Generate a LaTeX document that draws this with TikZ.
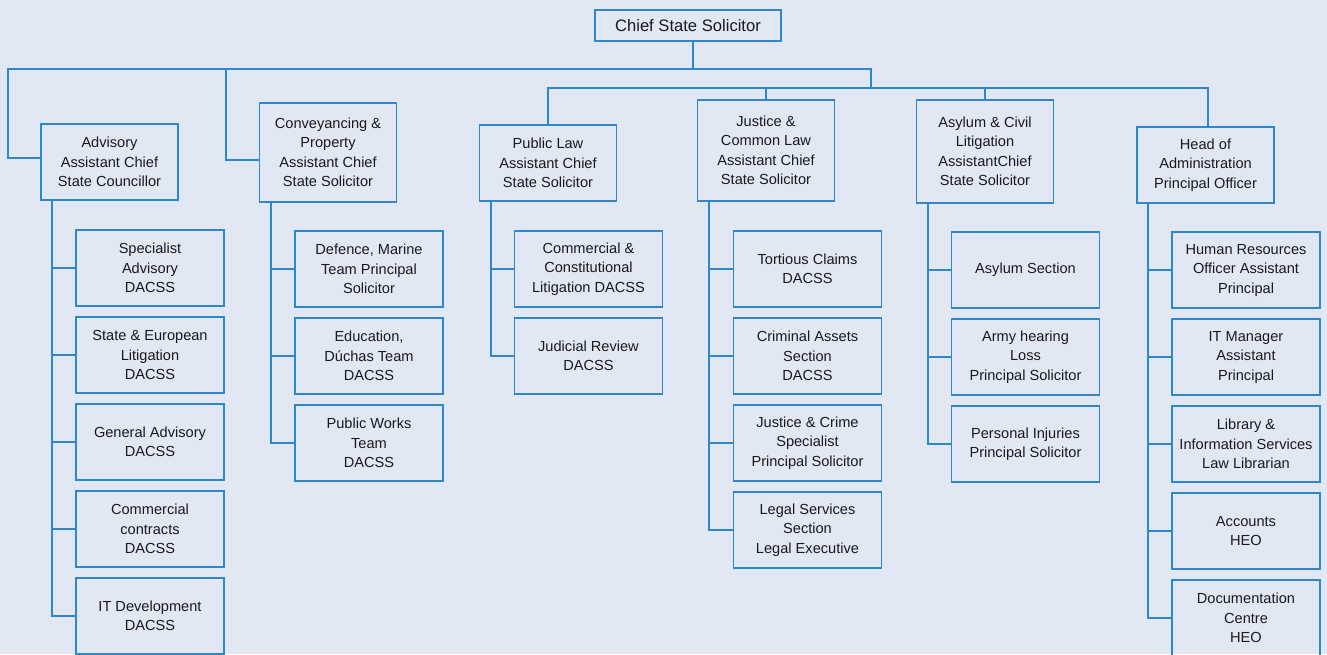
\documentclass[tikz,border=0pt]{standalone}
\usepackage{fontspec}
\setmainfont{Liberation Sans}
\definecolor{bgc}{RGB}{225,232,243}
\definecolor{linec}{RGB}{45,135,200}
\definecolor{txtc}{RGB}{25,25,30}
\begin{document}
\begin{tikzpicture}[x=1pt,y=-1pt,
  box/.style={draw=linec, line width=1.7pt, align=center, inner sep=0pt, text=txtc,
              font=\fontsize{14.6}{19.5}\selectfont},
  pbox/.style={box, minimum width=137pt},
  cbox/.style={box, minimum width=148pt, minimum height=76pt},
  conn/.style={draw=linec, line width=1.7pt}]
\useasboundingbox[fill=bgc] (0,0) rectangle (1327,654);

% top
\node[box, minimum width=186pt, minimum height=31pt, font=\fontsize{16.6}{20}\selectfont] (chief) at (688,25.5) {Chief State Solicitor};

% second level
\node[pbox, minimum height=76pt]  (adv)  at (109.5,162)  {Advisory\\Assistant Chief\\State Councillor};
\node[pbox, minimum height=99pt]  (conv) at (328,152.5)  {Conveyancing \&\\Property\\Assistant Chief\\State Solicitor};
\node[pbox, minimum height=76pt]  (pl)   at (548,163)    {Public Law\\Assistant Chief\\State Solicitor};
\node[pbox, minimum height=101pt] (jus)  at (766,150.5)  {Justice \&\\Common Law\\Assistant Chief\\State Solicitor};
\node[pbox, minimum height=103pt] (asy)  at (985,151.5)  {Asylum \& Civil\\Litigation\\AssistantChief\\State Solicitor};
\node[pbox, minimum height=76pt]  (hoa)  at (1205.5,165) {Head of\\Administration\\Principal Officer};

% junctions
\coordinate (bL) at (8,69);
\coordinate (bR) at (871,69);
\coordinate (b2R) at (871,88);
\coordinate (b2E) at (1208,88);
\coordinate (j0) at (693,69);
\coordinate (jC) at (226,69);

\draw[conn] (j0 |- chief.south) -- (j0);
\draw[conn] ([yshift=4pt]adv.west) -| (bL) -- (bR) -- (b2R);
\draw[conn] ([yshift=-7.5pt]conv.west) -| (jC);
\draw[conn] (pl.north) |- (b2E) -- (b2E |- hoa.north);
\draw[conn] (jus.north) -- (jus.north |- b2E);
\draw[conn] (asy.north) -- (asy.north |- b2E);

% Advisory children
\node[cbox] (a1) at (150,268) {Specialist\\Advisory\\DACSS};
\node[cbox] (a2) at (150,355) {State \& European\\Litigation\\DACSS};
\node[cbox] (a3) at (150,442) {General Advisory\\DACSS};
\node[cbox] (a4) at (150,529) {Commercial\\contracts\\DACSS};
\node[cbox] (a5) at (150,616) {IT Development\\DACSS};
\coordinate (sA) at ([xshift=12pt]adv.south west);
\draw[conn] (sA) |- (a5.west);
\foreach \n in {a1,a2,a3,a4} \draw[conn] (\n.west) -- (\n.west -| sA);

% Conveyancing children
\node[cbox] (c1) at (369,269) {Defence, Marine\\Team Principal\\Solicitor};
\node[cbox] (c2) at (369,356) {Education,\\Dúchas Team\\DACSS};
\node[cbox] (c3) at (369,443) {Public Works\\Team\\DACSS};
\coordinate (sC) at ([xshift=12pt]conv.south west);
\draw[conn] (sC) |- (c3.west);
\foreach \n in {c1,c2} \draw[conn] (\n.west) -- (\n.west -| sC);

% Public Law children
\node[cbox] (p1) at (588.5,269) {Commercial \&\\Constitutional\\Litigation DACSS};
\node[cbox] (p2) at (588.5,356) {Judicial Review\\DACSS};
\coordinate (sP) at ([xshift=12pt]pl.south west);
\draw[conn] (sP) |- (p2.west);
\draw[conn] (p1.west) -- (p1.west -| sP);

% Justice children
\node[cbox] (u1) at (807.5,269) {Tortious Claims\\DACSS};
\node[cbox] (u2) at (807.5,356) {Criminal Assets\\Section\\DACSS};
\node[cbox] (u3) at (807.5,443) {Justice \& Crime\\Specialist\\Principal Solicitor};
\node[cbox] (u4) at (807.5,530) {Legal Services\\Section\\Legal Executive};
\coordinate (sU) at ([xshift=12pt]jus.south west);
\draw[conn] (sU) |- (u4.west);
\foreach \n in {u1,u2,u3} \draw[conn] (\n.west) -- (\n.west -| sU);

% Asylum children
\node[cbox] (y1) at (1025.5,270) {Asylum Section};
\node[cbox] (y2) at (1025.5,357) {Army hearing\\Loss\\Principal Solicitor};
\node[cbox] (y3) at (1025.5,444) {Personal Injuries\\Principal Solicitor};
\coordinate (sY) at ([xshift=12pt]asy.south west);
\draw[conn] (sY) |- (y3.west);
\foreach \n in {y1,y2} \draw[conn] (\n.west) -- (\n.west -| sY);

% Administration children
\node[cbox] (h1) at (1246,270) {Human Resources\\Officer Assistant\\Principal};
\node[cbox] (h2) at (1246,357) {IT Manager\\Assistant\\Principal};
\node[cbox] (h3) at (1246,444) {Library \&\\Information Services\\Law Librarian};
\node[cbox] (h4) at (1246,531) {Accounts\\HEO};
\node[cbox] (h5) at (1246,618) {Documentation\\Centre\\HEO};
\coordinate (sH) at ([xshift=12pt]hoa.south west);
\draw[conn] (sH) |- (h5.west);
\foreach \n in {h1,h2,h3,h4} \draw[conn] (\n.west) -- (\n.west -| sH);
\end{tikzpicture}
\end{document}
